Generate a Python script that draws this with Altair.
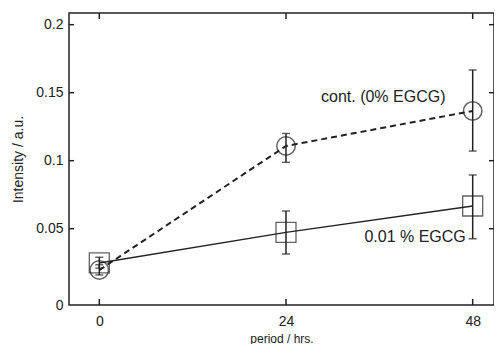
import altair as alt
import pandas as pd

# ---- data ----
period = [0, 24, 48]
cont_mean = [0.0196, 0.1108, 0.1366]
cont_lo = [0.0160, 0.0988, 0.1071]
cont_hi = [0.0235, 0.1200, 0.1667]
egcg_mean = [0.0248, 0.0473, 0.0667]
egcg_lo = [0.0210, 0.0314, 0.0426]
egcg_hi = [0.0290, 0.0630, 0.0895]

series_names = ["cont. (0% EGCG)", "0.01 % EGCG"]
y_ticks = [0, 0.05, 0.1, 0.15, 0.2]
x_ticks = [0, 24, 48]
inner_y_ticks = [0.05, 0.1, 0.15, 0.2]

ann_text = ["cont. (0% EGCG)", "0.01 % EGCG"]
ann_x = [36.5, 40.6]
ann_y = [0.1468, 0.0441]

W, H = 425, 292
X_DOM = [-3.895, 50.74]
Y_DOM = [-0.0061, 0.2086]
INK = "#222222"

rows = []
for i, t in enumerate(period):
    rows.append(dict(t=t, v=cont_mean[i], lo=cont_lo[i], hi=cont_hi[i], s=series_names[0]))
    rows.append(dict(t=t, v=egcg_mean[i], lo=egcg_lo[i], hi=egcg_hi[i], s=series_names[1]))
df = pd.DataFrame(rows)
cont_df = df[df.s == series_names[0]]
egcg_df = df[df.s == series_names[1]]

xs = alt.Scale(domain=X_DOM, nice=False, zero=False)
ys = alt.Scale(domain=Y_DOM, nice=False, zero=False)

X = alt.X("t:Q", scale=xs, title="period / hrs.",
          axis=alt.Axis(values=x_ticks, grid=False, ticks=False, domain=False,
                        labelFontSize=14, labelPadding=9, titleFontSize=12,
                        titleFontWeight="normal", titlePadding=5,
                        labelFont="Liberation Sans", titleFont="Liberation Sans",
                        labelColor=INK, titleColor=INK))
Y = alt.Y("v:Q", scale=ys, title="Intensity / a.u.",
          axis=alt.Axis(values=y_ticks, format="~g", grid=False, ticks=False, domain=False,
                        labelFontSize=14, labelPadding=6, titleFontSize=14,
                        titleFontWeight="normal", titlePadding=10,
                        labelOffset={"condition": {"test": "datum.value == 0", "value": 9},
                                     "value": 0},
                        labelFont="Liberation Sans", titleFont="Liberation Sans",
                        labelColor=INK, titleColor=INK))

line_cont = alt.Chart(cont_df).mark_line(color=INK, strokeWidth=2, strokeDash=[6, 4]).encode(x=X, y=Y)
line_egcg = alt.Chart(egcg_df).mark_line(color=INK, strokeWidth=1.5).encode(x=X, y=Y)

err = alt.Chart(df).mark_rule(color=INK, strokeWidth=1.5).encode(
    x=alt.X("t:Q", scale=xs), y=alt.Y("lo:Q", scale=ys), y2="hi:Q")
cap_lo = alt.Chart(df).mark_tick(color=INK, thickness=1.5, size=8, orient="horizontal").encode(
    x=alt.X("t:Q", scale=xs), y=alt.Y("lo:Q", scale=ys))
cap_hi = alt.Chart(df).mark_tick(color=INK, thickness=1.5, size=8, orient="horizontal").encode(
    x=alt.X("t:Q", scale=xs), y=alt.Y("hi:Q", scale=ys))

pts_cont = alt.Chart(cont_df).mark_point(shape="circle", filled=False, size=340,
                                          color=INK, strokeWidth=1.5).encode(
    x=alt.X("t:Q", scale=xs), y=alt.Y("v:Q", scale=ys))
pts_egcg = alt.Chart(egcg_df).mark_point(shape="square", filled=False, size=400,
                                          color=INK, strokeWidth=1.3).encode(
    x=alt.X("t:Q", scale=xs), y=alt.Y("v:Q", scale=ys))

ann_df = pd.DataFrame(dict(label=ann_text, t=ann_x, v=ann_y))
ann = alt.Chart(ann_df).mark_text(font="Liberation Sans", fontSize=16, color=INK).encode(
    x=alt.X("t:Q", scale=xs), y=alt.Y("v:Q", scale=ys), text="label:N")

# inward ticks on all four sides
yt_df = pd.DataFrame(dict(v=inner_y_ticks))
xt_df = pd.DataFrame(dict(t=x_ticks))
tl = alt.Chart(yt_df).mark_rule(color=INK, strokeWidth=1.5).encode(
    y=alt.Y("v:Q", scale=ys), x=alt.value(0), x2=alt.value(5))
tr = alt.Chart(yt_df).mark_rule(color=INK, strokeWidth=1.5).encode(
    y=alt.Y("v:Q", scale=ys), x=alt.value(W - 5), x2=alt.value(W))
tb = alt.Chart(xt_df).mark_rule(color=INK, strokeWidth=1.5).encode(
    x=alt.X("t:Q", scale=xs), y=alt.value(H - 6), y2=alt.value(H))
tt = alt.Chart(xt_df).mark_rule(color=INK, strokeWidth=1.5).encode(
    x=alt.X("t:Q", scale=xs), y=alt.value(0), y2=alt.value(6))

base = alt.Chart(df).mark_point(opacity=0).encode(x=X, y=Y)

chart = alt.layer(base, line_cont, line_egcg, err, cap_lo, cap_hi, pts_cont, pts_egcg,
                  ann, tl, tr, tb, tt).properties(
    width=W, height=H,
    padding={"left": 61, "top": 5, "right": 0, "bottom": 39},
    autosize=alt.AutoSizeParams(type="none"),
    background="white",
).configure_view(stroke=INK, strokeWidth=1.5)

chart.save("out.html", embed_options={"renderer": "svg", "actions": False})
